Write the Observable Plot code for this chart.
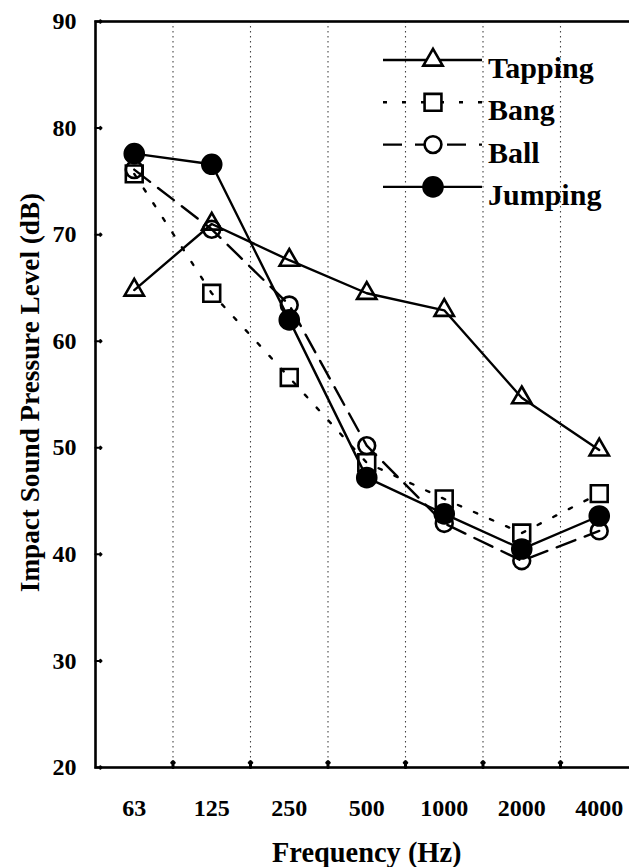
<!DOCTYPE html>
<html>
<head>
<meta charset="utf-8">
<script src="https://cdn.jsdelivr.net/npm/d3@7"></script>
<script src="https://cdn.jsdelivr.net/npm/@observablehq/plot@0.6"></script>
<style>
  html, body { margin: 0; padding: 0; background: white; overflow: hidden; }
</style>
</head>
<body>
<div id="chart"></div>
<script>
const categories = ["63", "125", "250", "500", "1000", "2000", "4000"];
const tapping = [64.8, 71.0, 67.6, 64.5, 62.9, 54.7, 49.8];
const bang    = [75.7, 64.5, 56.6, 48.6, 45.2, 42.0, 45.7];
const ball    = [76.1, 70.5, 63.4, 50.2, 42.9, 39.4, 42.2];
const jumping = [77.6, 76.6, 62.0, 47.2, 43.8, 40.5, 43.6];
const yTicks  = [20, 30, 40, 50, 60, 70, 80, 90];
const seriesNames = ["Tapping", "Bang", "Ball", "Jumping"];
const seriesValues = [tapping, bang, ball, jumping];

const FONT = "'Liberation Serif', 'Times New Roman', serif";
const styles = {
  Tapping: {dash: null, legendDash: null, symbol: "triangle", fill: "none", r: 7.2},
  Bang:    {dash: "3.5,14", legendDash: "4,15", symbol: "square", fill: "none", r: 9.5},
  Ball:    {dash: "20,10", legendDash: "19,13", symbol: "circle", fill: "none", r: 8.4},
  Jumping: {dash: null, legendDash: null, symbol: "circle", fill: "black", r: 9.5}
};

const idx = d3.range(categories.length);
const boundaries = idx.slice(1).map(i => i - 0.5);
const rows = [];
seriesNames.forEach((name, s) => {
  seriesValues[s].forEach((v, i) => rows.push({series: name, i, freq: categories[i], value: v}));
});

const seriesMarks = [];
seriesNames.forEach(name => {
  const st = styles[name];
  const data = rows.filter(d => d.series === name);
  seriesMarks.push(Plot.line(data, {x: "i", y: "value", stroke: "black", strokeWidth: 2.4, strokeDasharray: st.dash}));
});
seriesNames.forEach(name => {
  const st = styles[name];
  const data = rows.filter(d => d.series === name);
  seriesMarks.push(Plot.dot(data, {x: "i", y: "value", symbol: st.symbol, r: st.r,
    fill: st.fill, stroke: "black", strokeWidth: 2.6}));
});

const chart = Plot.plot({
  width: 629,
  height: 867,
  marginLeft: 95,
  marginTop: 21,
  marginBottom: 100,
  marginRight: -8.5,
  style: {background: "white", overflow: "visible"},
  x: {domain: [-0.5, categories.length - 0.5], axis: null},
  y: {domain: [20, 90], axis: null},
  marks: [
    Plot.ruleX(boundaries, {x: d => d, stroke: "#444", strokeWidth: 1.1, strokeDasharray: "1.5,3.5"}),
    Plot.frame({stroke: "black", strokeWidth: 2.6}),
    Plot.vector(boundaries, {x: d => d, y: 20, length: 6, anchor: "start", stroke: "black", strokeWidth: 3}),
    Plot.vector(yTicks, {x: -0.5, y: d => d, rotate: 90, length: 6, anchor: "start", stroke: "black", strokeWidth: 2}),
    ...seriesMarks,
    Plot.text(idx, {x: d => d, text: d => categories[d], frameAnchor: "bottom", dy: 48,
      fontSize: 24, fontWeight: "bold", fontFamily: FONT, fill: "black"}),
    Plot.text(yTicks, {y: d => d, text: d => String(d), frameAnchor: "left", dx: -19, textAnchor: "end",
      fontSize: 24, fontWeight: "bold", fontFamily: FONT, fill: "black"}),
    Plot.text(["Frequency (Hz)"], {frameAnchor: "bottom", dy: 94, textAnchor: "middle",
      fontSize: 28.4, fontWeight: "bold", fontFamily: FONT, fill: "black"}),
    Plot.text(["Impact Sound Pressure Level (dB)"], {frameAnchor: "left", dx: -65, dy: -2, rotate: -90, textAnchor: "middle",
      fontSize: 27.2, fontWeight: "bold", fontFamily: FONT, fill: "black"})
  ]
});

// Legend (top right, inside the frame)
const svg = d3.select(chart);
const legend = svg.append("g").attr("class", "legend");
const symbolMap = {triangle: d3.symbolTriangle, square: d3.symbolSquare, circle: d3.symbolCircle};
const lx1 = 383, lx2 = 482, lmx = 433, ltx = 488, ly0 = 60, lstep = 42.3;
seriesNames.forEach((name, k) => {
  const st = styles[name];
  const y = ly0 + k * lstep;
  legend.append("line")
    .attr("x1", lx1).attr("x2", lx2).attr("y1", y).attr("y2", y)
    .attr("stroke", "black").attr("stroke-width", 2.4)
    .attr("stroke-dasharray", st.legendDash);
  legend.append("path")
    .attr("transform", `translate(${lmx},${y})`)
    .attr("d", d3.symbol(symbolMap[st.symbol], Math.PI * st.r * st.r)())
    .attr("fill", st.fill === "none" ? "white" : st.fill)
    .attr("stroke", "black").attr("stroke-width", 2.6);
  legend.append("text")
    .attr("x", ltx).attr("y", y + 18)
    .attr("text-anchor", "start")
    .attr("font-family", FONT).attr("font-weight", "bold").attr("font-size", 30)
    .attr("fill", "black")
    .text(name);
});

document.getElementById("chart").appendChild(chart);
</script>
</body>
</html>
